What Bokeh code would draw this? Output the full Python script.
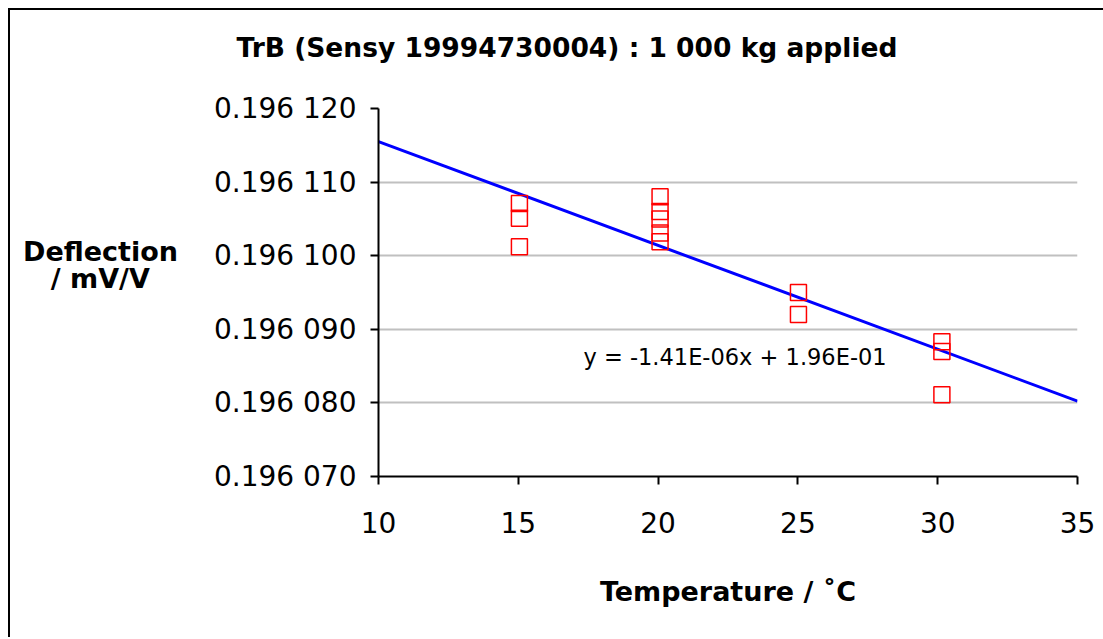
from bokeh.plotting import figure
from bokeh.models import Range1d, FixedTicker, CustomJSTickFormatter, Label
from bokeh.embed import file_html
from bokeh.resources import INLINE

# ---- data ----
temp_15 = [15.04, 15.04, 15.04]
defl_15 = [0.1961071, 0.1961051, 0.1961012]
temp_20 = [20.07, 20.07, 20.07, 20.07, 20.07]
defl_20 = [0.1961080, 0.1961060, 0.1961050, 0.1961031, 0.1961019]
temp_25 = [25.02, 25.02]
defl_25 = [0.1960950, 0.1960920]
temp_30 = [30.15, 30.15, 30.15]
defl_30 = [0.1960883, 0.1960870, 0.1960811]

trend_slope = -1.41e-06
trend_intercept = 0.1961296
trend_x = [10, 35]

x_ticks = [10, 15, 20, 25, 30, 35]
y_ticks = [0.19607, 0.19608, 0.19609, 0.19610, 0.19611, 0.19612]
y_tick_labels = ["0.196 070", "0.196 080", "0.196 090", "0.196 100", "0.196 110", "0.196 120"]

title_text = "TrB (Sensy 19994730004)  : 1 000 kg applied"
x_label = "Temperature / \u02daC"
y_label = "Deflection\n/ mV/V\u00a0\u00a0\u00a0\n\n"
equation = "y = -1.41E-06x + 1.96E-01"

temps = temp_15 + temp_20 + temp_25 + temp_30
defls = defl_15 + defl_20 + defl_25 + defl_30

FONT = "DejaVu Sans"

p = figure(width=1097, height=629, output_backend="svg", toolbar_location=None,
           x_range=Range1d(10, 35), y_range=Range1d(0.19607, 0.19612),
           min_border_left=368, min_border_right=30, min_border_top=98, min_border_bottom=163)
p.styles = {"margin-left": "10px", "margin-top": "10px",
            "box-shadow": "-2px -2px 0px 0px black"}
p.outline_line_color = None
p.background_fill_color = "white"
p.border_fill_color = "white"

# title
p.title.text = title_text + "\n"
p.title.text_font = FONT
p.title.text_font_size = "26.5px"
p.title.text_font_style = "bold"
p.title.text_color = "black"
p.title.align = "left"
p.title.offset = -142
p.title.vertical_align = "bottom"
p.title.standoff = 30

p.xgrid.visible = False
p.ygrid.grid_line_color = "#c0c0c0"
p.ygrid.grid_line_width = 2

for ax in (p.xaxis[0], p.yaxis[0]):
    ax.axis_line_color = "black"
    ax.axis_line_width = 2
    ax.major_tick_line_color = "black"
    ax.major_tick_line_width = 2
    ax.major_tick_out = 8
    ax.major_tick_in = 0
    ax.minor_tick_line_color = None
    ax.major_label_text_font = FONT
    ax.major_label_text_font_size = "28px"
    ax.major_label_text_color = "black"
    ax.axis_label_text_font = FONT
    ax.axis_label_text_font_style = "bold"
    ax.axis_label_text_color = "black"

p.xaxis.ticker = FixedTicker(ticks=x_ticks)
p.xaxis.major_label_standoff = 27
p.xaxis.axis_label = x_label
p.xaxis.axis_label_text_font_size = "27px"
p.xaxis.axis_label_standoff = 40

p.yaxis.ticker = FixedTicker(ticks=y_ticks)
p.yaxis.major_label_standoff = 14
p.yaxis.axis_label = y_label
p.yaxis.axis_label_orientation = "horizontal"
p.yaxis.axis_label_text_font_size = "27px"
p.yaxis.axis_label_text_line_height = 0.89
p.yaxis.axis_label_standoff = 33
p.yaxis.formatter = CustomJSTickFormatter(args=dict(tvals=y_ticks, tlabels=y_tick_labels), code="""
    let best = 0, bd = Infinity;
    for (let i = 0; i < tvals.length; i++) {
        const d = Math.abs(tvals[i] - tick);
        if (d < bd) { bd = d; best = i; }
    }
    return tlabels[best];
""")

# trend line
p.line(trend_x, [trend_slope * x + trend_intercept for x in trend_x],
       line_color="#0000ff", line_width=3)

# data
p.scatter(temps, defls, marker="square", size=16, fill_color=None,
          line_color="#ff0000", line_width=1.5)

# equation
p.add_layout(Label(x=17.33, y=0.1960862, text=equation, text_font=FONT,
                   text_font_size="22.5px", text_baseline="middle", text_align="left",
                   text_color="black"))

html = file_html(p, INLINE)
html = html.replace("<head>", "<head><style>html, body { overflow: hidden; margin: 0; }</style>", 1)
open("out.html", "w").write(html)
